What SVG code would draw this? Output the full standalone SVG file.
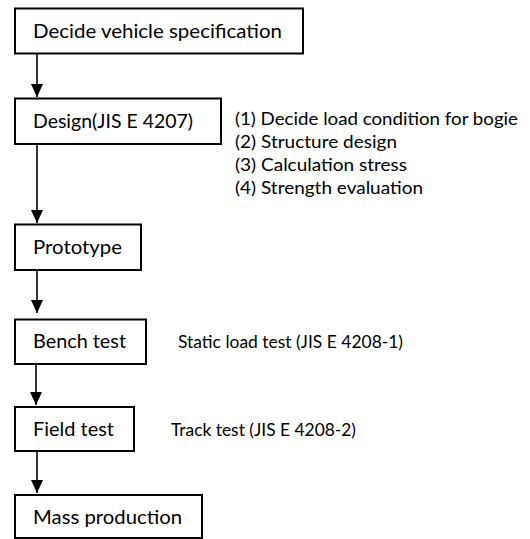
<svg xmlns="http://www.w3.org/2000/svg" width="530" height="539" viewBox="0 0 530 539">
<style>
.box{fill:#fff;stroke:#000;stroke-width:2}
.t{font-family:Lato,"Open Sans","Liberation Sans",sans-serif;font-size:20px;fill:#000}
.s{font-family:Lato,"Open Sans","Liberation Sans",sans-serif;font-size:18px;fill:#000}
.c{stroke:#000;stroke-width:1.6;fill:none}
</style>
<defs>
<marker id="ah" markerUnits="userSpaceOnUse" markerWidth="14" markerHeight="14" refX="13" refY="6" orient="auto">
<path d="M0,0 L13,6 L0,12 Z" fill="#000"/>
</marker>
</defs>
<rect width="530" height="539" fill="#fff"/>
<g id="connectors">
<line class="c" x1="37" y1="53" x2="37" y2="97" marker-end="url(#ah)"/>
<line class="c" x1="37" y1="144" x2="37" y2="223" marker-end="url(#ah)"/>
<line class="c" x1="37" y1="270" x2="37" y2="313" marker-end="url(#ah)"/>
<line class="c" x1="36" y1="364" x2="36" y2="405" marker-end="url(#ah)"/>
<line class="c" x1="37" y1="451" x2="37" y2="493" marker-end="url(#ah)"/>
</g>
<g id="n1">
<rect class="box" x="15" y="8.5" width="288" height="45"/>
<text class="t" x="33" y="38" textLength="249" lengthAdjust="spacingAndGlyphs">Decide vehicle specification</text>
</g>
<g id="n2">
<rect class="box" x="15" y="98.5" width="206" height="45.5"/>
<text class="t" x="33" y="128" textLength="160" lengthAdjust="spacingAndGlyphs">Design(JIS E 4207)</text>
</g>
<g id="n2notes">
<text class="s" x="235" y="125" textLength="283" lengthAdjust="spacingAndGlyphs">(1) Decide load condition for bogie</text>
<text class="s" x="235" y="148" textLength="162" lengthAdjust="spacingAndGlyphs">(2) Structure design</text>
<text class="s" x="235" y="171" textLength="172" lengthAdjust="spacingAndGlyphs">(3) Calculation stress</text>
<text class="s" x="235" y="194" textLength="188" lengthAdjust="spacingAndGlyphs">(4) Strength evaluation</text>
</g>
<g id="n3">
<rect class="box" x="15" y="224.5" width="126" height="45.5"/>
<text class="t" x="33" y="254" textLength="89" lengthAdjust="spacingAndGlyphs">Prototype</text>
</g>
<g id="n4">
<rect class="box" x="15" y="319.5" width="131" height="44.5"/>
<text class="t" x="33" y="348" textLength="93" lengthAdjust="spacingAndGlyphs">Bench test</text>
<text class="s" x="178" y="348" textLength="225" lengthAdjust="spacingAndGlyphs">Static load test (JIS E 4208-1)</text>
</g>
<g id="n5">
<rect class="box" x="15" y="407" width="119" height="44"/>
<text class="t" x="33" y="436" textLength="81" lengthAdjust="spacingAndGlyphs">Field test</text>
<text class="s" x="171" y="436" textLength="185" lengthAdjust="spacingAndGlyphs">Track test (JIS E 4208-2)</text>
</g>
<g id="n6">
<rect class="box" x="15" y="495" width="187" height="43"/>
<text class="t" x="33" y="524" textLength="149" lengthAdjust="spacingAndGlyphs">Mass production</text>
</g>
</svg>
